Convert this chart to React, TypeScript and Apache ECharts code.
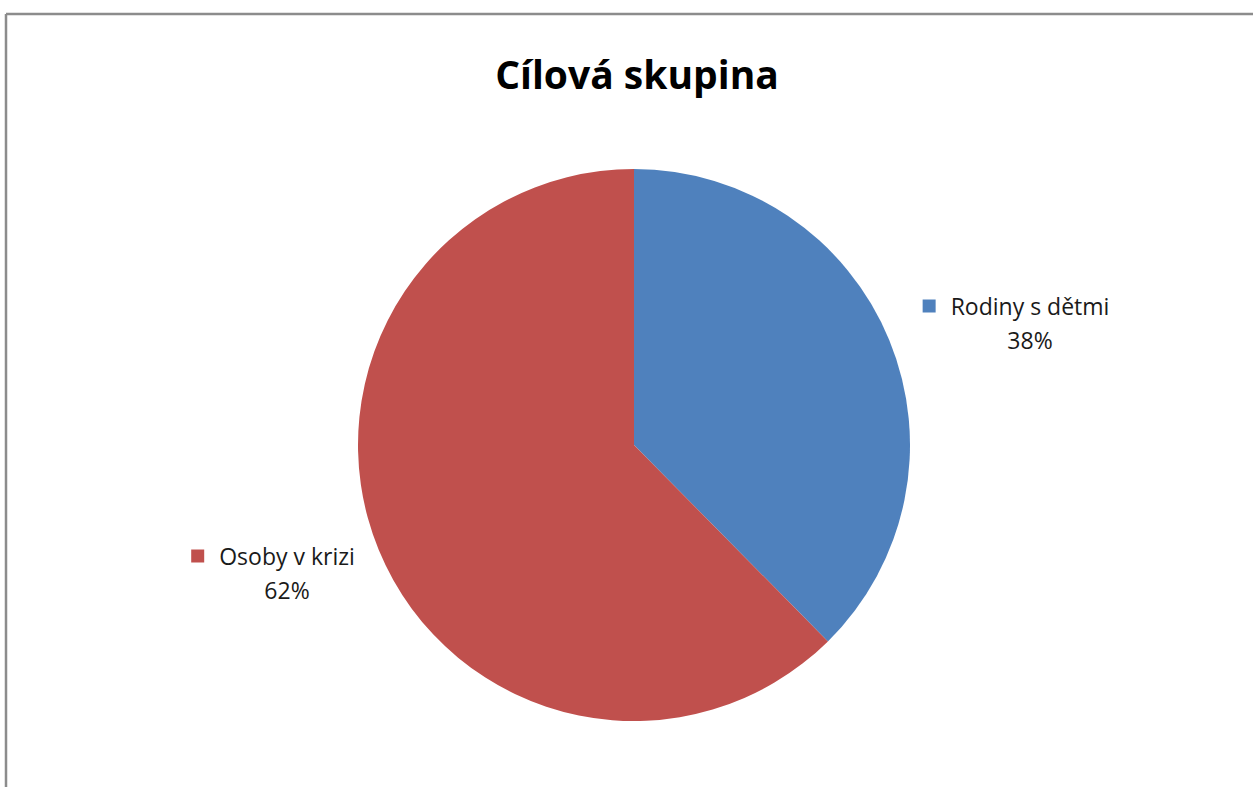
import React, { useEffect, useRef } from "react";
import * as echarts from "echarts";

const categories = ["Rodiny s dětmi", "Osoby v krizi"];
const values = [37.6, 62.4];
const colors = ["#4F81BD", "#C0504D"];
const titleText = "Cílová skupina";

const labelPos = [
  { x: 1016, y: 323 },
  { x: 273, y: 573 },
];

export default function App() {
  const ref = useRef<HTMLDivElement>(null);
  useEffect(() => {
    document.body.style.margin = "0";
    const chart = echarts.init(ref.current!, null, { renderer: "svg" });
    const font = "'Open Sans', Lato, sans-serif";
    chart.setOption({
      animation: false,
      backgroundColor: "#ffffff",
      title: {
        text: titleText,
        left: 632,
        top: 68,
        textAlign: "center",
        textVerticalAlign: "middle",
        textStyle: { fontFamily: font, fontWeight: "bold", fontSize: 39, color: "#000" },
      },
      graphic: [
        { type: "line", shape: { x1: 6, y1: 14, x2: 1253, y2: 14 }, style: { stroke: "#8c8c8c", lineWidth: 2.5 } },
        { type: "line", shape: { x1: 6, y1: 14, x2: 6, y2: 787 }, style: { stroke: "#8c8c8c", lineWidth: 2.5 } },
      ],
      series: [
        {
          type: "pie",
          center: [634, 445],
          radius: 276,
          startAngle: 90,
          clockwise: true,
          label: {
            show: true,
            position: "outside",
            fontFamily: font,
            formatter: (p: any) => `{m|}{g|}{t|${p.name}}\n{g2|}{t|${Math.round(p.percent)}%}`,
            rich: {
              m: { width: 13, height: 13 },
              g: { width: 15 },
              g2: { width: 28 },
              t: { fontFamily: font, fontSize: 23, color: "#1a1a1a", lineHeight: 34 },
            },
            align: "center",
          },
          labelLine: { show: false },
          labelLayout: (p: any) => ({
            x: labelPos[p.dataIndex].x,
            y: labelPos[p.dataIndex].y,
            align: "center",
            verticalAlign: "middle",
          }),
          data: categories.map((c, i) => ({
            name: c,
            value: values[i],
            itemStyle: { color: colors[i] },
            label: { rich: { m: { width: 13, height: 13, backgroundColor: colors[i] } } },
          })),
          emphasis: { disabled: true },
        },
      ],
    });
    return () => chart.dispose();
  }, []);
  return <div ref={ref} style={{ width: 1253, height: 787 }} />;
}
